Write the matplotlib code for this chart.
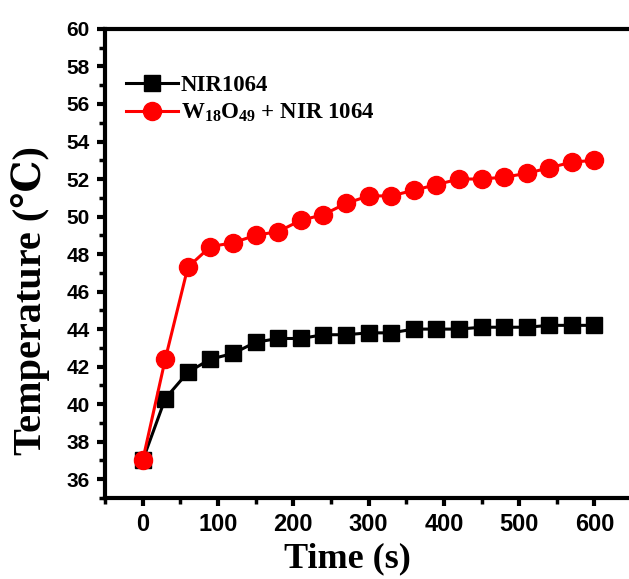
import matplotlib.pyplot as plt
from matplotlib.ticker import MultipleLocator

# données
temps = [0, 30, 60, 90, 120, 150, 180, 210, 240, 270, 300,
         330, 360, 390, 420, 450, 480, 510, 540, 570, 600]
nir = [37.0, 40.3, 41.7, 42.4, 42.7, 43.3, 43.5, 43.5, 43.7, 43.7, 43.8,
       43.8, 44.0, 44.0, 44.0, 44.1, 44.1, 44.1, 44.2, 44.2, 44.2]
w18o49 = [37.0, 42.4, 47.3, 48.4, 48.6, 49.0, 49.2, 49.8, 50.1, 50.7, 51.1,
          51.1, 51.4, 51.7, 52.0, 52.0, 52.1, 52.3, 52.6, 52.9, 53.0]

plt.rcParams['mathtext.fontset'] = 'custom'
plt.rcParams['mathtext.bf'] = 'Liberation Serif:bold'
plt.rcParams['mathtext.rm'] = 'Liberation Serif:bold'
plt.rcParams['mathtext.default'] = 'bf'

fig = plt.figure(figsize=(6.29, 5.79), dpi=100)
ax = fig.add_axes([0.167, 0.140, 0.838, 0.810])

ax.plot(temps, nir, color='black', marker='s', markersize=12, linewidth=2.2,
        label='NIR1064', zorder=3)
ax.plot(temps, w18o49, color='#ff0000', marker='o', markersize=13, linewidth=2.2,
        label='$W_{18}O_{49}$ + NIR 1064', zorder=4)

ax.set_xlim(-50, 650)
ax.set_ylim(35, 60)
ax.xaxis.set_major_locator(MultipleLocator(100))
ax.xaxis.set_minor_locator(MultipleLocator(50))
ax.yaxis.set_major_locator(MultipleLocator(2))
ax.yaxis.set_minor_locator(MultipleLocator(1))
ax.set_yticks(range(36, 61, 2))

for s in ax.spines.values():
    s.set_linewidth(3)
ax.tick_params(which='major', direction='out', length=6, width=3, pad=5)
ax.tick_params(which='minor', direction='out', length=4, width=2.5)
for lab in ax.get_xticklabels():
    lab.set_fontfamily('Liberation Sans')
    lab.set_fontweight('bold')
    lab.set_fontsize(17)
for lab in ax.get_yticklabels():
    lab.set_fontfamily('Liberation Sans')
    lab.set_fontweight('bold')
    lab.set_fontsize(15)

ax.set_xlabel('Time (s)', family=['Liberation Serif', 'DejaVu Serif'],
              fontweight='bold', fontsize=26)
ax.xaxis.set_label_coords(0.46, -0.095)
ax.set_ylabel('Temperature (\u2103)', family=['Liberation Serif', 'DejaVu Serif'],
              fontweight='bold', fontsize=29)
ax.yaxis.set_label_coords(-0.105, 0.42)

leg = ax.legend(loc='upper left', bbox_to_anchor=(0.0, 0.945), frameon=False,
                handlelength=2.3, handletextpad=0.1, labelspacing=0.25,
                prop={'family': 'Liberation Serif', 'weight': 'bold', 'size': 16.5})

fig.savefig('out.png', dpi=100)
